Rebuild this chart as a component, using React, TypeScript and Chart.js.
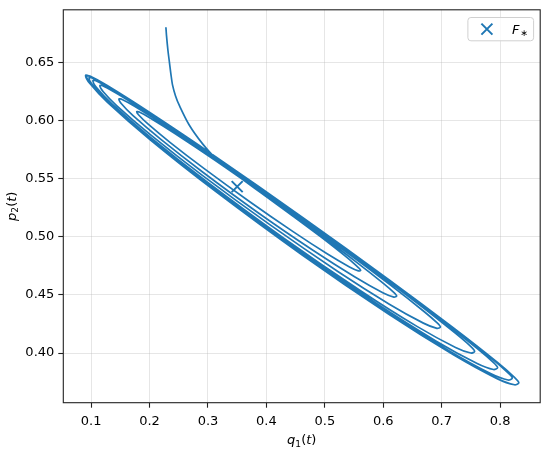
import React, { useEffect, useRef } from "react";
import { Chart, registerables } from "chart.js";

Chart.register(...registerables);

// Trajectory (q1(t), p2(t)), segment by segment
const approach: [number, number][] = [
  [0.228, 0.68], [0.229, 0.673], [0.2315, 0.66], [0.234, 0.65], [0.2365, 0.64], [0.2395, 0.63],
  [0.2445, 0.621], [0.2508, 0.613], [0.2679, 0.596], [0.2905, 0.58], [0.3133, 0.5674],
];
const out1: [number, number][] = [
  [0.3574, 0.55], [0.4019, 0.5336], [0.4464, 0.5173], [0.4909, 0.5007], [0.5206, 0.4891],
  [0.5428, 0.4801], [0.5539, 0.4751], [0.5591, 0.4726], [0.5614, 0.4709],
];
const back1: [number, number][] = [
  [0.5575, 0.4706], [0.5422, 0.474], [0.5039, 0.4853], [0.4463, 0.5041], [0.3697, 0.5307],
  [0.293, 0.5587], [0.2355, 0.5809], [0.1972, 0.5969], [0.1819, 0.6044], [0.178, 0.6074],
];
const out2: [number, number][] = [
  [0.1824, 0.6072], [0.2002, 0.6023], [0.2447, 0.5883], [0.3115, 0.5659], [0.4004, 0.5347],
  [0.4894, 0.5025], [0.5562, 0.4773], [0.6007, 0.4597], [0.6184, 0.4519], [0.6229, 0.449],
];
const back2: [number, number][] = [
  [0.6182, 0.4481], [0.5992, 0.4518], [0.5516, 0.4653], [0.4803, 0.4881], [0.3852, 0.5208],
  [0.2902, 0.5558], [0.2189, 0.5838], [0.1713, 0.6042], [0.1523, 0.614], [0.1476, 0.6183],
];
const out3: [number, number][] = [
  [0.1531, 0.6179], [0.1751, 0.6119], [0.2301, 0.5945], [0.3127, 0.5667], [0.4227, 0.5281],
  [0.5327, 0.4883], [0.6153, 0.4573], [0.6703, 0.4355], [0.6923, 0.4259], [0.6978, 0.4223],
];
const back3: [number, number][] = [
  [0.6919, 0.4212], [0.6687, 0.4257], [0.6104, 0.442], [0.5229, 0.4699], [0.4064, 0.5101],
  [0.2898, 0.5529], [0.2024, 0.5873], [0.1441, 0.6125], [0.1208, 0.6246], [0.115, 0.6299],
];
const out4: [number, number][] = [
  [0.1214, 0.6294], [0.1471, 0.6222], [0.2112, 0.6019], [0.3074, 0.5694], [0.4357, 0.5245],
  [0.5639, 0.4781], [0.6602, 0.442], [0.7243, 0.4166], [0.75, 0.4055], [0.7564, 0.4014],
];
const back4: [number, number][] = [
  [0.7498, 0.4], [0.7237, 0.4048], [0.6584, 0.4227], [0.5604, 0.4538], [0.4297, 0.4988],
  [0.2991, 0.5469], [0.2011, 0.5856], [0.1357, 0.6142], [0.1096, 0.628], [0.1031, 0.6341],
];
const out5: [number, number][] = [
  [0.11, 0.6336], [0.1377, 0.6259], [0.207, 0.6039], [0.3109, 0.5688], [0.4494, 0.5203],
  [0.5879, 0.4701], [0.6918, 0.4312], [0.761, 0.4039], [0.7888, 0.3918], [0.7957, 0.3874],
];
const back5: [number, number][] = [
  [0.7887, 0.3858], [0.7607, 0.391], [0.6907, 0.4102], [0.5859, 0.4434], [0.446, 0.4915],
  [0.3062, 0.543], [0.2013, 0.5845], [0.1314, 0.6151], [0.1034, 0.6299], [0.0964, 0.6365],
];
const out6: [number, number][] = [
  [0.1037, 0.6359], [0.1327, 0.6279], [0.2051, 0.6048], [0.3138, 0.5681], [0.4587, 0.5173],
  [0.6035, 0.4649], [0.7122, 0.4242], [0.7847, 0.3957], [0.8136, 0.383], [0.8209, 0.3785],
];
const back6: [number, number][] = [
  [0.8136, 0.3768], [0.7845, 0.3821], [0.7116, 0.4022], [0.6022, 0.4368], [0.4564, 0.487],
  [0.3107, 0.5407], [0.2013, 0.5839], [0.1285, 0.6158], [0.0992, 0.6313], [0.092, 0.6381],
];
const out7: [number, number][] = [
  [0.0994, 0.6374], [0.1291, 0.6293], [0.2032, 0.6056], [0.314, 0.5682], [0.462, 0.5163],
  [0.61, 0.4628], [0.721, 0.4211], [0.795, 0.3921], [0.8246, 0.3791], [0.832, 0.3745],
];
const back7: [number, number][] = [
  [0.8246, 0.3727], [0.7949, 0.3781], [0.7208, 0.3984], [0.6096, 0.4335], [0.4613, 0.4845],
  [0.313, 0.5392], [0.2017, 0.5833], [0.1276, 0.6158], [0.0979, 0.6316], [0.0905, 0.6386],
];
const out8: [number, number][] = [
  [0.0979, 0.638], [0.1276, 0.6299], [0.2017, 0.6063], [0.313, 0.5688], [0.4613, 0.5167],
  [0.6096, 0.4631], [0.7208, 0.4214], [0.7949, 0.3922], [0.8246, 0.3791], [0.832, 0.3745],
];
const back8: [number, number][] = [
  [0.8246, 0.3727], [0.7949, 0.378], [0.7208, 0.3983], [0.6096, 0.4333], [0.4613, 0.4843],
  [0.313, 0.539], [0.2017, 0.5831], [0.1276, 0.6157], [0.0979, 0.6316], [0.0905, 0.6386],
];

// Fixed point F*
const fixedPoint: [number, number] = [0.35, 0.543];

// Axis ticks
const xTicks = [0.1, 0.2, 0.3, 0.4, 0.5, 0.6, 0.7, 0.8];
const yTicks = [0.4, 0.45, 0.5, 0.55, 0.6, 0.65];
const xRange: [number, number] = [0.0524, 0.8686];
const yRange: [number, number] = [0.3573, 0.695];

const BLUE = "#1f77b4";
const FONT = '"DejaVu Sans", sans-serif';
const FS = 13;

type Part = { t: string; it?: boolean; sub?: boolean };

function drawMath(ctx: CanvasRenderingContext2D, parts: Part[], size: number, cx: number, baseline: number) {
  const fontFor = (p: Part) => `${p.it ? "italic " : ""}${p.sub ? size * 0.7 : size}px ${FONT}`;
  const widths = parts.map((p) => {
    ctx.font = fontFor(p);
    return ctx.measureText(p.t).width;
  });
  const total = widths.reduce((a, b) => a + b, 0);
  let x = cx - total / 2;
  ctx.textAlign = "left";
  ctx.textBaseline = "alphabetic";
  parts.forEach((p, i) => {
    ctx.font = fontFor(p);
    ctx.fillText(p.t, x, baseline + (p.sub ? size * 0.2 : 0));
    x += widths[i];
  });
}

const decorPlugin = {
  id: "decor",
  afterDraw(chart: any) {
    const { ctx, chartArea } = chart;
    const { left, right, top, bottom } = chartArea;
    ctx.save();
    // frame
    ctx.strokeStyle = "#222";
    ctx.lineWidth = 1.1;
    ctx.strokeRect(left, top, right - left, bottom - top);

    // axis titles
    ctx.fillStyle = "#000";
    drawMath(ctx, [{ t: "q", it: true }, { t: "1", sub: true }, { t: "(" }, { t: "t", it: true }, { t: ")" }], FS, (left + right) / 2, 444);
    ctx.save();
    ctx.translate(15.5, (top + bottom) / 2);
    ctx.rotate(-Math.PI / 2);
    drawMath(ctx, [{ t: "p", it: true }, { t: "2", sub: true }, { t: "(" }, { t: "t", it: true }, { t: ")" }], FS, 0, 0);
    ctx.restore();

    // legend
    const bw = 65.7, bh = 23.3;
    const bx = right - 6.6 - bw, by = top + 7.7;
    ctx.beginPath();
    const r = 3;
    ctx.moveTo(bx + r, by);
    ctx.lineTo(bx + bw - r, by);
    ctx.arcTo(bx + bw, by, bx + bw, by + r, r);
    ctx.lineTo(bx + bw, by + bh - r);
    ctx.arcTo(bx + bw, by + bh, bx + bw - r, by + bh, r);
    ctx.lineTo(bx + r, by + bh);
    ctx.arcTo(bx, by + bh, bx, by + bh - r, r);
    ctx.lineTo(bx, by + r);
    ctx.arcTo(bx, by, bx + r, by, r);
    ctx.closePath();
    ctx.fillStyle = "rgba(255,255,255,0.8)";
    ctx.fill();
    ctx.strokeStyle = "#d0d0d0";
    ctx.lineWidth = 1;
    ctx.stroke();

    const mx = bx + 19, my = by + bh / 2;
    ctx.strokeStyle = BLUE;
    ctx.lineWidth = 2;
    ctx.beginPath();
    ctx.moveTo(mx - 5.5, my - 5.5);
    ctx.lineTo(mx + 5.5, my + 5.5);
    ctx.moveTo(mx + 5.5, my - 5.5);
    ctx.lineTo(mx - 5.5, my + 5.5);
    ctx.stroke();

    ctx.fillStyle = "#000";
    ctx.textAlign = "left";
    ctx.textBaseline = "alphabetic";
    ctx.font = `italic ${FS}px ${FONT}`;
    const fx = bx + 44;
    ctx.fillText("F", fx, my + 4.8);
    const fw = ctx.measureText("F").width;
    ctx.font = `${FS * 0.7}px ${FONT}`;
    ctx.fillText("\u2217", fx + fw + 1, my + 6.5);
    ctx.restore();
  },
};

export default function App() {
  const ref = useRef<HTMLCanvasElement | null>(null);

  useEffect(() => {
    if (!ref.current) return;
    const segments = [approach, out1, back1, out2, back2, out3, back3, out4, back4, out5, back5, out6, back6, out7, back7, out8, back8];
    const trajectory = segments.flat().map(([x, y]) => ({ x, y }));

    const tickFont = { family: FONT, size: FS };
    const grid = {
      color: "rgba(176,176,176,0.32)",
      lineWidth: 1,
      drawTicks: true,
      tickLength: 5,
      tickColor: "#222",
      tickWidth: 1.1,
    };

    const chart = new Chart(ref.current, {
      type: "scatter",
      data: {
        datasets: [
          {
            data: trajectory,
            showLine: true,
            borderColor: BLUE,
            backgroundColor: BLUE,
            borderWidth: 1.7,
            pointRadius: 0,
            pointHoverRadius: 0,
            tension: 0.3,
            fill: false,
            order: 1,
          } as any,
          {
            data: [{ x: fixedPoint[0], y: fixedPoint[1] }],
            showLine: false,
            pointStyle: "crossRot",
            pointRadius: 7.8,
            pointBorderWidth: 2,
            borderColor: BLUE,
            backgroundColor: BLUE,
            order: 0,
          } as any,
        ],
      },
      options: {
        animation: false,
        responsive: false,
        events: [],
        layout: { padding: { left: 0, right: 6.7, top: 7.3, bottom: 0 } },
        plugins: { legend: { display: false }, tooltip: { enabled: false } },
        scales: {
          x: {
            type: "linear",
            min: xRange[0],
            max: xRange[1],
            afterBuildTicks: (s: any) => {
              s.ticks = xTicks.map((v) => ({ value: v }));
            },
            afterFit: (s: any) => {
              s.height = 52.3;
              s.paddingLeft = 0;
              s.paddingRight = 0;
            },
            ticks: {
              callback: (v: any) => Number(v).toFixed(1),
              font: tickFont,
              color: "#000",
              padding: 6,
              maxRotation: 0,
              autoSkip: false,
            },
            grid,
            border: { display: false },
          },
          y: {
            type: "linear",
            min: yRange[0],
            max: yRange[1],
            afterBuildTicks: (s: any) => {
              s.ticks = yTicks.map((v) => ({ value: v }));
            },
            afterFit: (s: any) => {
              s.width = 63.3;
              s.paddingTop = 0;
              s.paddingBottom = 0;
            },
            ticks: {
              callback: (v: any) => Number(v).toFixed(2),
              font: tickFont,
              color: "#000",
              padding: 4,
              autoSkip: false,
            },
            grid,
            border: { display: false },
          },
        },
      } as any,
      plugins: [decorPlugin],
    });
    return () => chart.destroy();
  }, []);

  return (
    <div style={{ position: "absolute", left: 0, top: 0, width: 550, height: 455, background: "#fff" }}>
      <canvas ref={ref} width={550} height={455} style={{ display: "block", width: 550, height: 455 }} />
    </div>
  );
}
